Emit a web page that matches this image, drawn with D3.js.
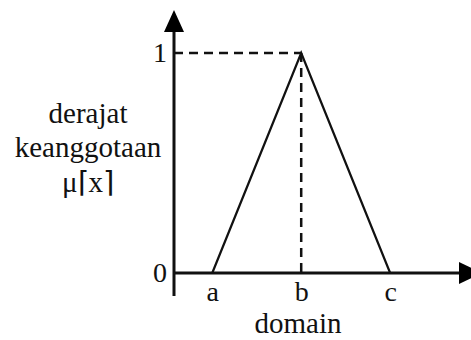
<!DOCTYPE html>
<html>
<head>
<meta charset="utf-8">
<script src="https://cdn.jsdelivr.net/npm/d3@7"></script>
<style>
  html, body { margin: 0; padding: 0; background: #fff; }
  svg { display: block; }
  text { font-family: "Liberation Serif", "Times New Roman", serif; fill: #111; }
</style>
</head>
<body>
<div id="chart"></div>
<script>
// triangular membership function: points a, b, c
const pointNames = ['a', 'b', 'c'];
const pointPos = [0, 1, 2];          // position on the domain
const membership = [0, 1, 0];        // mu at each point
const yTicks = [0, 1];
const yTitle = ['derajat', 'keanggotaan', 'μ⌈x⌉'];
const xTitle = 'domain';

const W = 471, H = 340;

const svg = d3.select('#chart')
    .append('svg')
    .attr('width', W)
    .attr('height', H);

// origin of the axes sits at (174, 273)
const x = d3.scaleLinear().domain([-0.43, 2.92]).range([174, 472]);
const y = d3.scaleLinear().domain([0, 1]).range([273, 53]);

// X axis labels (a, b, c) - no ticks, no domain line
const xAxis = svg.append('g')
    .attr('transform', `translate(0, ${y(0)})`)
    .call(d3.axisBottom(x)
        .tickValues(pointPos)
        .tickFormat((d, i) => pointNames[i])
        .tickSize(0));
xAxis.select('.domain').remove();
xAxis.selectAll('.tick text')
    .attr('dy', 0).attr('y', 28)
    .style('font-size', '28px')
    .style('font-family', '"Liberation Serif", serif');

// Y axis labels (0, 1)
const yAxis = svg.append('g')
    .attr('transform', `translate(${x(-0.43)}, 0)`)
    .call(d3.axisLeft(y)
        .tickValues(yTicks)
        .tickFormat(d3.format('d'))
        .tickSize(0));
yAxis.select('.domain').remove();
yAxis.selectAll('.tick text')
    .attr('dy', '0.3em')
    .attr('x', -7)
    .style('font-size', '28px')
    .style('font-family', '"Liberation Serif", serif');

// dashed guides from the peak
const peak = 1;
svg.append('line')
    .attr('x1', x(-0.43)).attr('y1', y(membership[peak]))
    .attr('x2', x(pointPos[peak])).attr('y2', y(membership[peak]))
    .attr('stroke', '#111').attr('stroke-width', 2.5)
    .attr('stroke-dasharray', '9,6');
svg.append('line')
    .attr('x1', x(pointPos[peak])).attr('y1', y(membership[peak]))
    .attr('x2', x(pointPos[peak])).attr('y2', y(0))
    .attr('stroke', '#111').attr('stroke-width', 2.5)
    .attr('stroke-dasharray', '9,6');

// the triangle itself
const line = d3.line()
    .x((d, i) => x(pointPos[i]))
    .y(d => y(d));
svg.append('path')
    .datum(membership)
    .attr('d', line)
    .attr('fill', 'none')
    .attr('stroke', '#111')
    .attr('stroke-width', 2.2);

// axes lines with arrows
const x0 = x(-0.43), y0 = y(0);
svg.append('line') // vertical axis, sticks out below the x axis
    .attr('x1', x0).attr('y1', 296)
    .attr('x2', x0).attr('y2', 26)
    .attr('stroke', '#111').attr('stroke-width', 3);
svg.append('line') // horizontal axis
    .attr('x1', x0).attr('y1', y0)
    .attr('x2', 462).attr('y2', y0)
    .attr('stroke', '#111').attr('stroke-width', 3);
svg.append('path') // up arrow
    .attr('d', `M${x0},10 L${x0 + 10},32 L${x0 - 10},32 Z`)
    .attr('fill', '#000');
svg.append('path') // right arrow (tip runs off the picture)
    .attr('d', `M482,${y0} L459,${y0 - 11} L459,${y0 + 11} Z`)
    .attr('fill', '#000');

// y title, three centred lines
svg.append('g').selectAll('text')
    .data(yTitle)
    .enter().append('text')
    .attr('x', 88)
    .attr('y', (d, i) => [123, 157, 192][i])
    .attr('text-anchor', 'middle')
    .style('font-size', '29px')
    .text(d => d);

// x title
svg.append('text')
    .attr('x', 298)
    .attr('y', 333)
    .attr('text-anchor', 'middle')
    .style('font-size', '29px')
    .text(xTitle);
</script>
</body>
</html>
